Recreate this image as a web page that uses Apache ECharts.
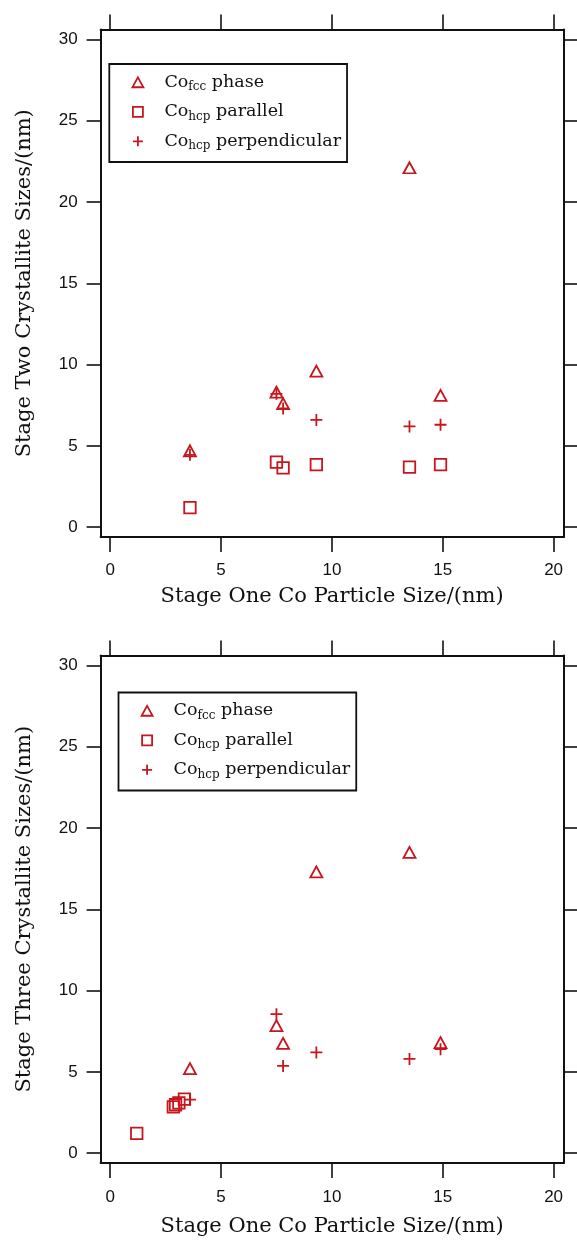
<!DOCTYPE html>
<html>
<head>
<meta charset="utf-8">
<script src="https://cdn.jsdelivr.net/npm/echarts@6/dist/echarts.min.js"></script>
<style>
    html, body {
        margin: 0;
        padding: 0;
        background: #fff;
    }

    #chart {
        width: 577px;
        height: 1241px;
    }
</style>
</head>
<body>
<div id="chart"></div>
<script>
// tick labels
const xTicks = [0, 5, 10, 15, 20]
const yTicks = [0, 5, 10, 15, 20, 25, 30]

// legend names
const seriesNames = ['Co fcc phase', 'Co hcp parallel', 'Co hcp perpendicular']

// stage one particle size (x) for stage two and most of stage three
const stageOneX = [3.6, 7.5, 7.8, 9.3, 13.5, 14.9]

// stage two crystallite sizes
const twoFcc = [4.7, 8.3, 7.6, 9.6, 22.1, 8.1]
const twoParallel = [1.2, 4.0, 3.65, 3.85, 3.7, 3.85]
const twoPerp = [4.45, 8.2, 7.3, 6.6, 6.2, 6.3]

// stage three crystallite sizes
const threeFcc = [5.2, 7.85, 6.75, 17.3, 18.5, 6.8]
const threePerp = [3.3, 8.55, 5.37, 6.2, 5.8, 6.4]
const threeParallelX = [1.2, 2.85, 2.95, 3.1, 3.35]
const threeParallel = [1.22, 2.85, 2.98, 3.1, 3.33]

const red = '#c8161d'
const serif = 'DejaVu Serif'
const sans = 'Liberation Sans'

const symbols = {
    triangle: 'path://M5,0 L10,9 L0,9 Z',
    square: 'path://M0,0 L10,0 L10,10 L0,10 Z',
    plus: 'path://M5,0 L5,10 M0,5 L10,5'
}

function pairs(xs, ys) {
    return xs.map((x, i) => [x, ys[i]])
}

function xAxisFor(grid, bottom) {
    return {
        type: 'value',
        gridIndex: grid,
        position: bottom ? 'bottom' : 'top',
        min: -0.43,
        max: 20.45,
        name: bottom ? 'Stage One Co Particle Size/(nm)' : '',
        nameLocation: 'middle',
        nameGap: grid === 0 ? 49 : 53,
        nameTextStyle: {fontFamily: serif, fontSize: 21, color: '#111'},
        axisLine: {show: true, onZero: false, lineStyle: {color: '#111', width: 2}},
        axisTick: {show: true, inside: false, length: 15, customValues: xTicks, lineStyle: {color: '#111', width: 1.6}},
        axisLabel: {
            show: bottom, margin: grid === 0 ? 25 : 26, customValues: xTicks,
            fontFamily: sans, fontSize: 17, color: '#111'
        },
        splitLine: {show: false}
    }
}

function yAxisFor(grid, left, title) {
    return {
        type: 'value',
        gridIndex: grid,
        position: left ? 'left' : 'right',
        min: -0.6,
        max: 30.6,
        name: left ? title : '',
        nameLocation: 'middle',
        nameGap: 66,
        nameTextStyle: {fontFamily: serif, fontSize: 21, color: '#111'},
        axisLine: {show: true, onZero: false, lineStyle: {color: '#111', width: 2}},
        axisTick: {show: true, inside: false, length: 14, customValues: yTicks, lineStyle: {color: '#111', width: 1.6}},
        axisLabel: {
            show: left, margin: 23, customValues: yTicks,
            fontFamily: sans, fontSize: 17, color: '#111'
        },
        splitLine: {show: false}
    }
}

function scatter(name, grid, symbol, size, data) {
    return {
        name: name,
        type: 'scatter',
        xAxisIndex: grid * 2,
        yAxisIndex: grid * 2,
        symbol: symbols[symbol],
        symbolSize: size,
        itemStyle: {color: 'rgba(0,0,0,0)', borderColor: red, borderWidth: 1.8, opacity: 1},
        emphasis: {disabled: true},
        data: data
    }
}

//图例文字，下标用小字号
function legendLabel(name) {
    const parts = name.split(' ')
    return '{c|' + parts[0] + '}{s|' + parts[1] + '}{m| ' + parts.slice(2).join(' ') + '}'
}

function legendFor(left, top) {
    return {
        data: seriesNames,
        orient: 'vertical',
        left: left,
        top: top,
        padding: [9.3, 6, 9.7, 22.2],
        itemWidth: 11,
        itemHeight: 10,
        itemGap: 9.5,
        selectedMode: false,
        borderColor: '#111',
        borderWidth: 1.8,
        borderRadius: 0,
        backgroundColor: '#fff',
        itemStyle: {borderWidth: 1.8},
        formatter: legendLabel,
        textStyle: {
            color: '#111',
            fontFamily: serif,
            rich: {
                c: {fontFamily: serif, fontSize: 17.5, lineHeight: 22, color: '#111', padding: [0, 0, 0, 16]},
                m: {fontFamily: serif, fontSize: 17.5, lineHeight: 22, color: '#111'},
                s: {fontFamily: serif, fontSize: 12, lineHeight: 2, verticalAlign: 'bottom', color: '#111'}
            }
        }
    }
}

const chart = echarts.init(document.getElementById('chart'))

const option = {
    animation: false,
    backgroundColor: '#fff',
    grid: [
        {left: 100.6, top: 29.5, width: 463, height: 507.5},
        {left: 100.6, top: 655.5, width: 463, height: 507.5}
    ],
    legend: [
        legendFor(109.3, 64),
        legendFor(118.5, 692.5)
    ],
    xAxis: [
        xAxisFor(0, true), xAxisFor(0, false),
        xAxisFor(1, true), xAxisFor(1, false)
    ],
    yAxis: [
        yAxisFor(0, true, 'Stage Two Crystallite Sizes/(nm)'), yAxisFor(0, false),
        yAxisFor(1, true, 'Stage Three Crystallite Sizes/(nm)'), yAxisFor(1, false)
    ],
    series: [
        scatter(seriesNames[0], 0, 'triangle', [12, 11], pairs(stageOneX, twoFcc)),
        scatter(seriesNames[1], 0, 'square', 11.5, pairs(stageOneX, twoParallel)),
        scatter(seriesNames[2], 0, 'plus', 12, pairs(stageOneX, twoPerp)),
        scatter(seriesNames[0], 1, 'triangle', [12, 11], pairs(stageOneX, threeFcc)),
        scatter(seriesNames[1], 1, 'square', 11.5, pairs(threeParallelX, threeParallel)),
        scatter(seriesNames[2], 1, 'plus', 12, pairs(stageOneX, threePerp))
    ]
}

chart.setOption(option)
</script>
</body>
</html>
